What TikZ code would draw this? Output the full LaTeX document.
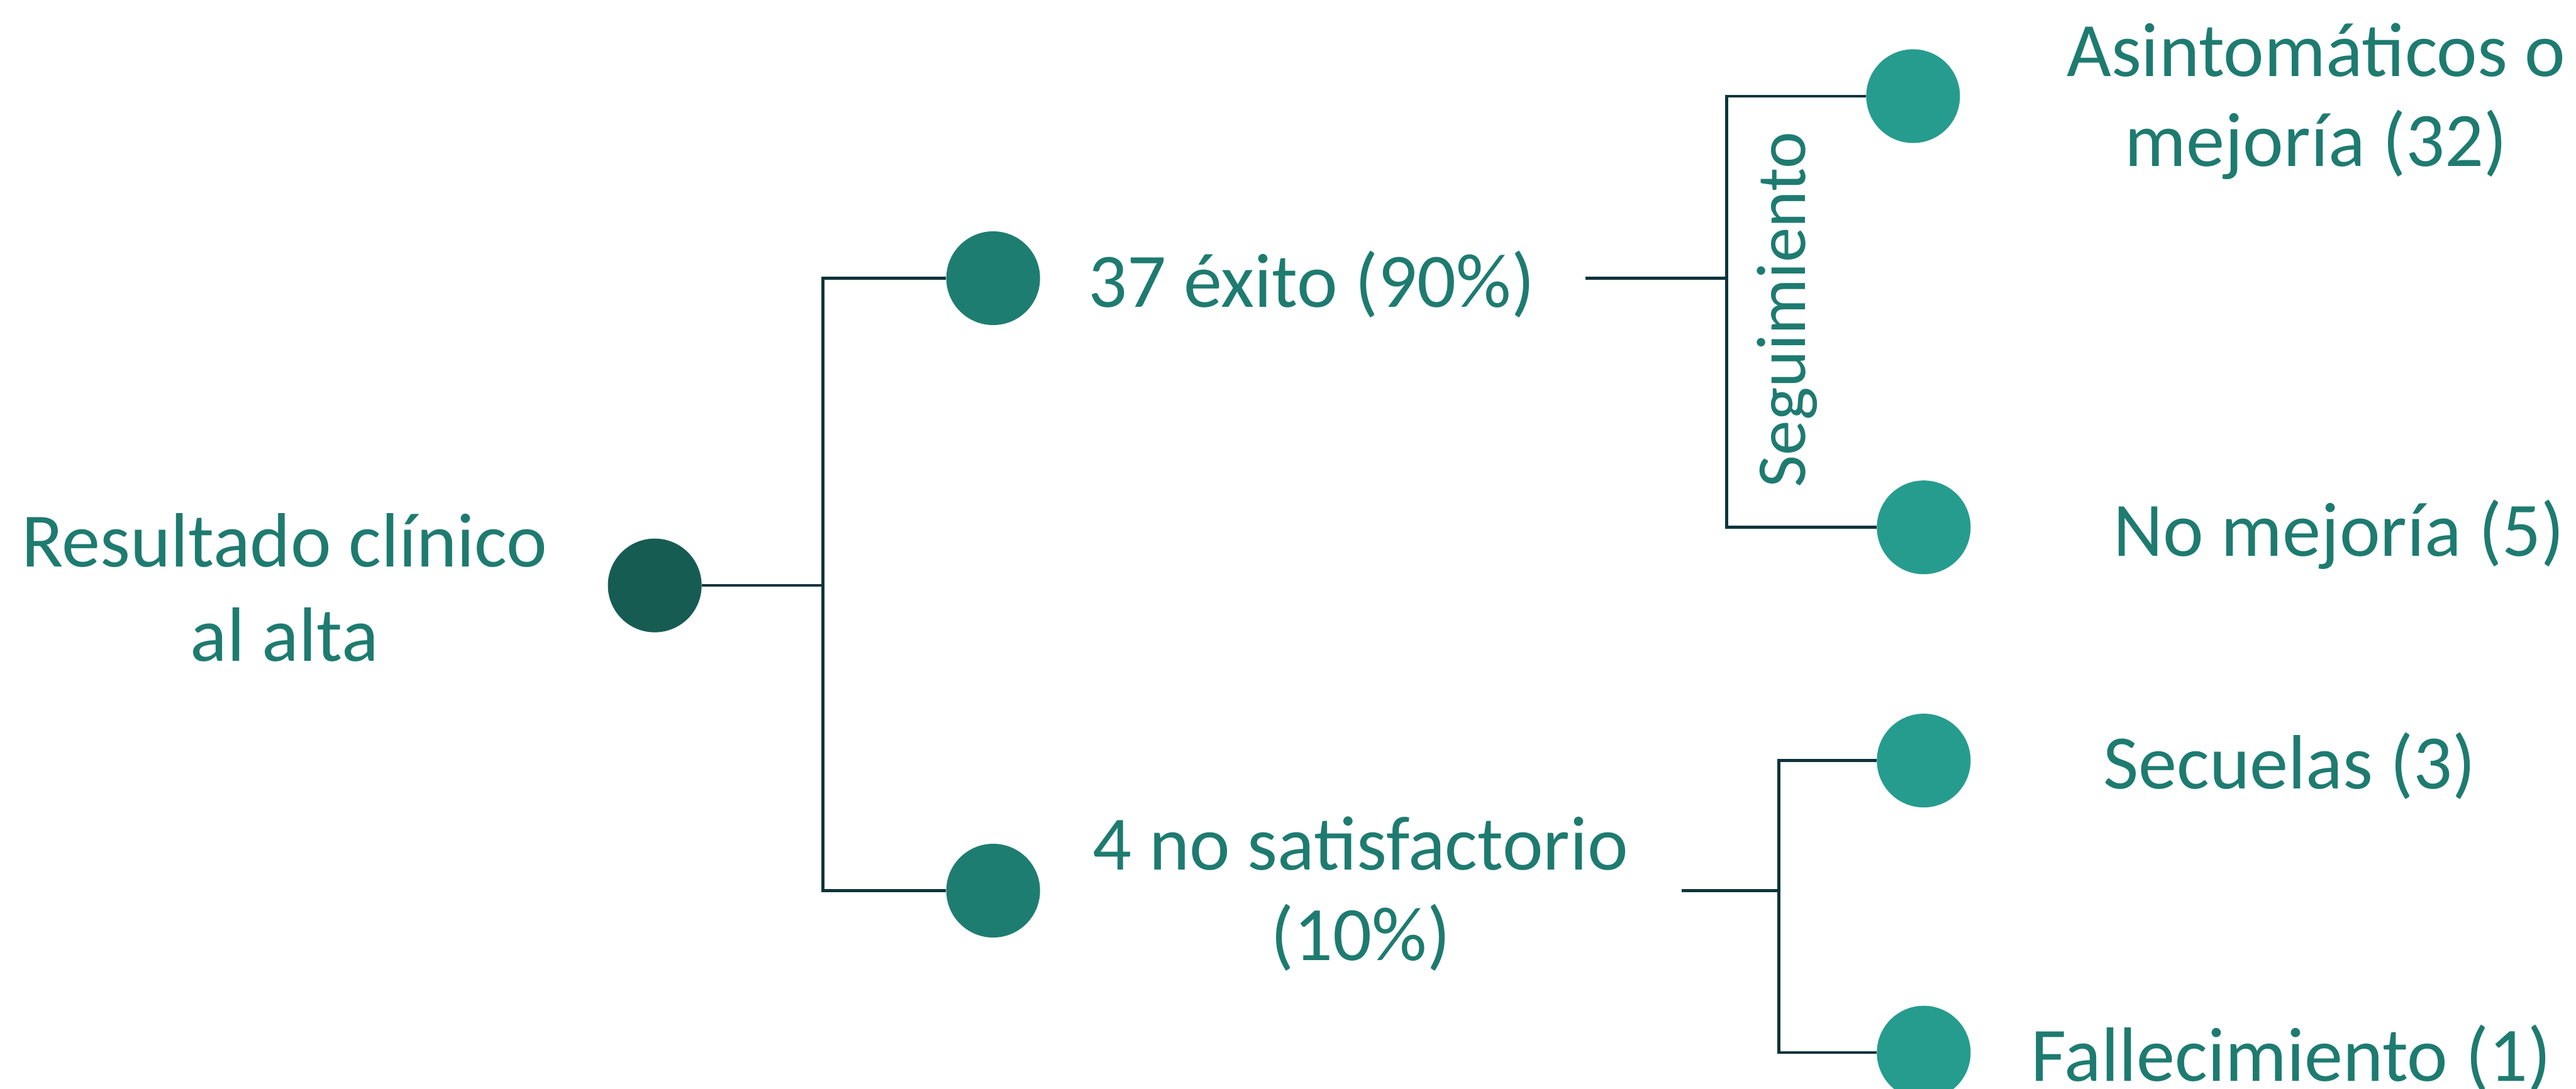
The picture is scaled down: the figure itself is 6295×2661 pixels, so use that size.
\documentclass[tikz,border=0pt]{standalone}
\usepackage{fontspec}
\setmainfont{Carlito}
\definecolor{txt}{HTML}{1E7B70}
\definecolor{rootc}{HTML}{175C52}
\definecolor{lvone}{HTML}{1E7D71}
\definecolor{lvtwo}{HTML}{269C8F}
\definecolor{linec}{HTML}{0E343B}
\begin{document}
\begin{tikzpicture}[x=0.01cm,y=-0.01cm,
  dot/.style={circle,inner sep=0pt,minimum size=2.29cm},
  lbl/.style={text=txt,inner sep=0pt,anchor=base,align=center,font=\fontsize{53.5}{62.6}\selectfont},
  conn/.style={draw=linec,line width=2pt}]
\useasboundingbox (0,0) rectangle (6295,2661);
% circles
\node[dot,fill=rootc] (root) at (1600,1431) {};
\node[dot,fill=lvone] (a1) at (2427,680) {};
\node[dot,fill=lvone] (a2) at (2427,2177) {};
\node[dot,fill=lvtwo] (b1) at (4675,235) {};
\node[dot,fill=lvtwo] (b2) at (4701,1289) {};
\node[dot,fill=lvtwo] (b3) at (4701,1859) {};
\node[dot,fill=lvtwo] (b4) at (4701,2573) {};
% labels (multi-line nodes: base = last line's baseline)
\node[lbl,font=\fontsize{53.5}{65.7}\selectfont] (troot) at (695,1616) {Resultado clínico\\al alta};
\node[lbl] (ta1) at (3205,750) {37 éxito (90\%)};
\node[lbl] (ta2) at (3325,2347) {4 no satisfactorio\\(10\%)};
\node[lbl] (tb1) at (5660,407) {Asintomáticos o\\mejoría (32)};
\node[lbl] (tb2) at (5716,1360) {No mejoría (5)};
\node[lbl] (tb3) at (5595,1928) {Secuelas (3)};
\node[lbl] (tb4) at (5599,2642) {Fallecimiento (1)};
\node[lbl,rotate=90,font=\fontsize{48.7}{58}\selectfont] (seg) at (4411,757) {Seguimiento};
% junctions
\coordinate (j1) at (2011,1431);
\coordinate (s1) at (3875,680);
\coordinate (j2) at (4219,680);
\coordinate (s2) at (4110,2177);
\coordinate (j3) at (4347,2177);
% connectors
\draw[conn] (root.east) -- (j1);
\draw[conn] (a1.west) -| (j1) |- (a2.west);
\draw[conn] (s1) -- (j2);
\draw[conn] (b1.west) -| (j2) |- (b2.west);
\draw[conn] (s2) -- (j3);
\draw[conn] (b3.west) -| (j3) |- (b4.west);
\end{tikzpicture}
\end{document}
